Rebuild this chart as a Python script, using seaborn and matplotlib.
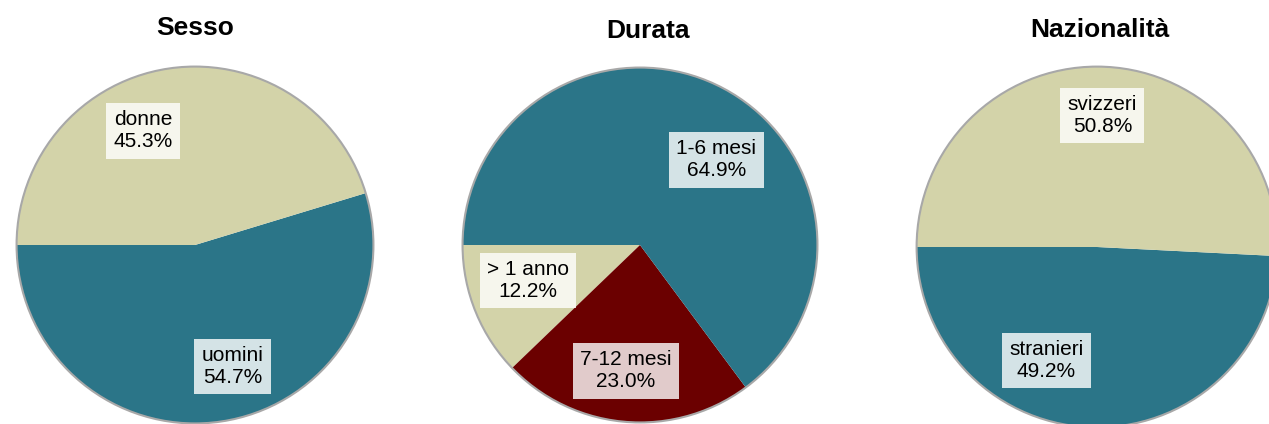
import matplotlib
matplotlib.use('Agg')
import matplotlib.pyplot as plt
import seaborn as sns
from matplotlib.patches import Circle

sns.set_style('white')
plt.rcParams['font.family'] = ['Liberation Sans', 'DejaVu Sans']

# data (order = drawing order, counter-clockwise from 9 o'clock)
sesso_labels = ['uomini', 'donne']
sesso_values = [54.7, 45.3]

durata_labels = ['> 1 anno', '7-12 mesi', '1-6 mesi']
durata_values = [12.2, 23.0, 64.9]

naz_labels = ['stranieri', 'svizzeri']
naz_values = [49.2, 50.8]

TEAL = '#2b7588'
BEIGE = '#d3d3a9'
DRED = '#6b0000'

W, H = 1269, 424

panels = [
    # title, labels, values, colors, center px, radius px, title px, label offsets (radius units)
    ('Sesso', sesso_labels, sesso_values, [TEAL, BEIGE], (195, 245), 182, (195, 28),
     [(0.21, -0.68), (-0.29, 0.64)]),
    ('Durata', durata_labels, durata_values, [BEIGE, DRED, TEAL], (640, 245), 181, (648, 31),
     [(-0.63, -0.20), (-0.08, -0.71), (0.43, 0.48)]),
    ('Nazionalità', naz_labels, naz_values, [TEAL, BEIGE], (1097, 247), 184, (1100, 30),
     [(-0.28, -0.63), (0.03, 0.73)]),
]

fig = plt.figure(figsize=(W / 100, H / 100), dpi=100)

for title, labels, values, colors, (cx, cy), r, (tx, ty), offs in panels:
    ax = fig.add_axes([(cx - r) / W, 1 - (cy + r) / H, 2 * r / W, 2 * r / H])
    ax.pie(values, colors=colors, startangle=180, counterclock=True,
           radius=1, wedgeprops=dict(edgecolor='none'))
    ax.add_patch(Circle((0, 0), 1.0, fill=False, edgecolor='#a8a8a8', lw=1.5))
    ax.set_xlim(-1.02, 1.02)
    ax.set_ylim(-1.02, 1.02)
    ax.set_aspect('equal')
    ax.axis('off')
    for lab, val, (dx, dy) in zip(labels, values, offs):
        ax.text(dx, dy, f'{lab}\n{val:.1f}%', ha='center', va='center',
                fontsize=15, linespacing=1.2, color='black',
                bbox=dict(boxstyle='square,pad=0.35', fc='white', alpha=0.8, ec='none'))
    fig.text(tx / W, 1 - ty / H, title, ha='center', va='center',
             fontsize=19, fontweight='bold', color='black')

fig.savefig('out.png', dpi=100)
